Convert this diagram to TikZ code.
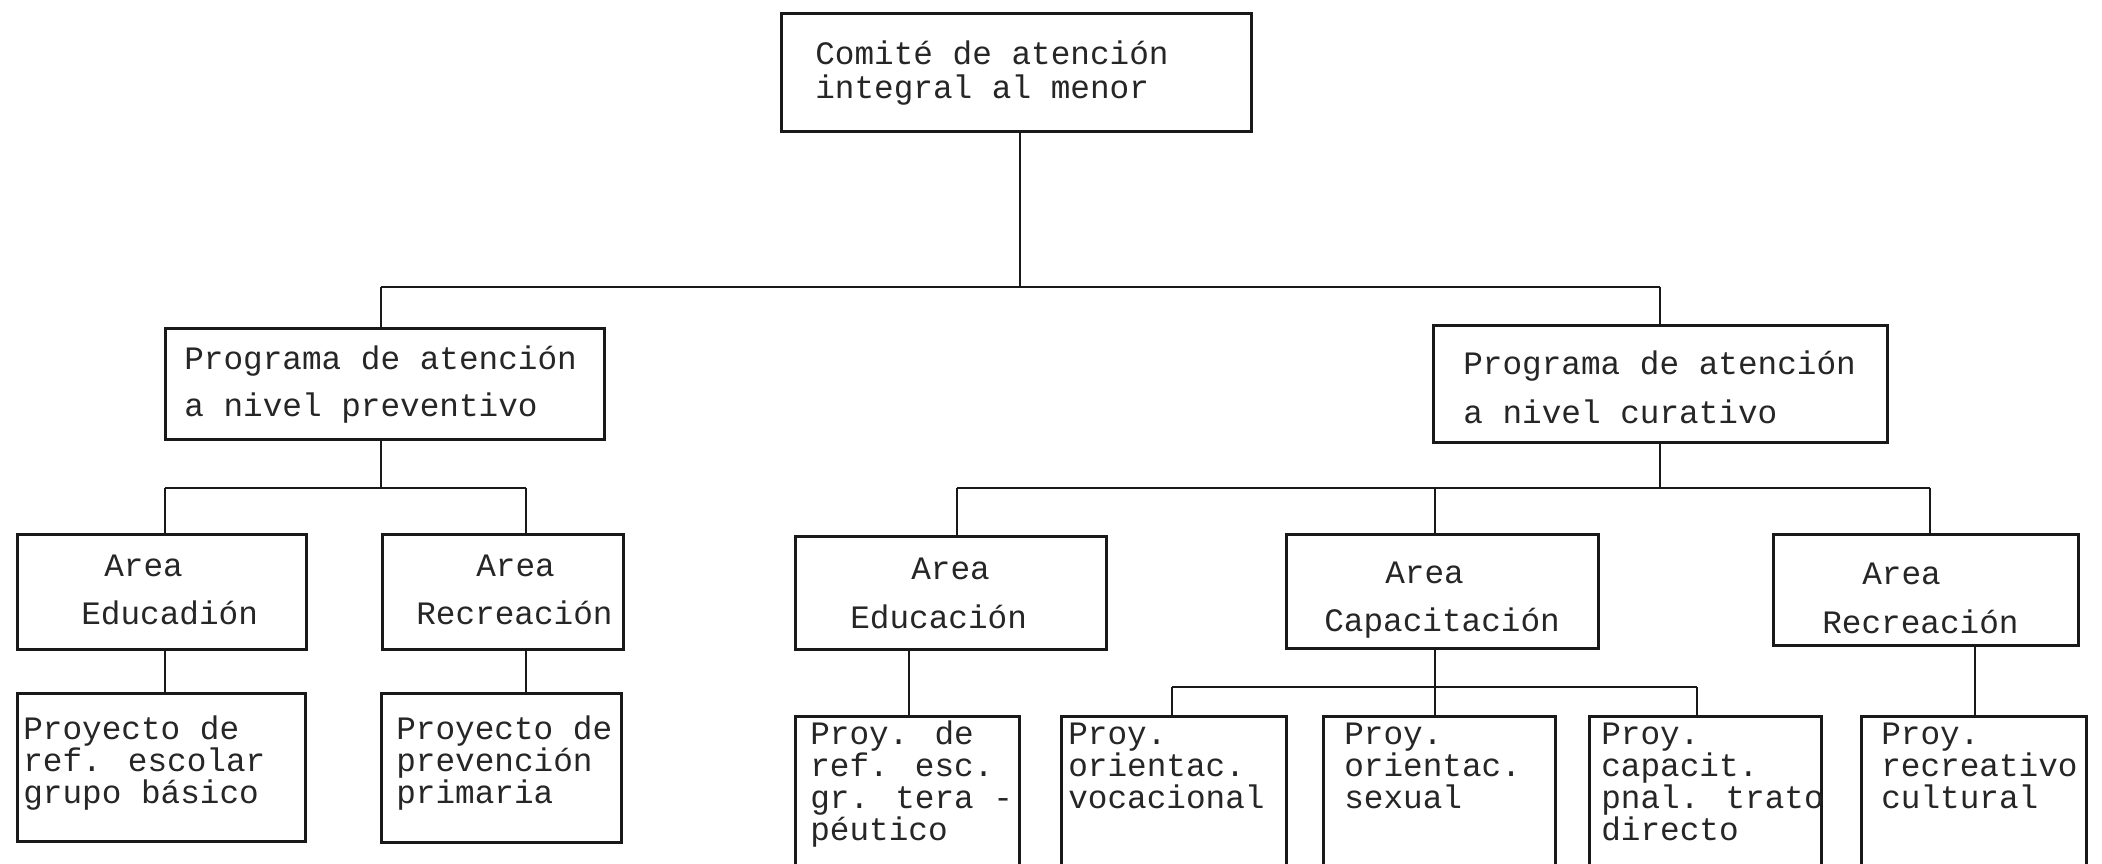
\documentclass[tikz,border=0pt]{standalone}
\usepackage{fontspec}
\newfontfamily\tw{Liberation Mono}
% #1 width, #2 height, #3 left pad, #4 baselineskip, #5 first baseline from top, #6 lines
\newcommand\bt[6]{\parbox[c][#2pt][t]{#1pt}{\tw\fontsize{32.7}{#4}\selectfont\leftskip=#3pt\relax\rightskip=-80pt plus 1fil\relax\parfillskip=0pt plus 1fil\relax\rule{0pt}{#5pt}#6}}
\tikzset{
  box/.style={draw=black!90, line width=2.7pt, inner sep=0pt, anchor=north west, text=black!85},
  conn/.style={draw=black!90, line width=2.7pt}
}
\begin{document}
\begin{tikzpicture}[x=1pt,y=1pt]
\useasboundingbox (0,0) rectangle (2102,-864);
\fill[white] (0,0) rectangle (2102,-864);
\clip (0,0) rectangle (2102,-864);
% level 0
\node[box] (top) at (780,-12) {\bt{470}{118}{34}{34}{51}{Comité de atención\\integral al menor}};
% level 1
\node[box] (prev) at (164,-327) {\bt{439}{111}{19}{47}{41}{Programa de atención\\a nivel preventivo}};
\node[box] (cur) at (1432,-324) {\bt{454}{117}{30}{49}{49}{Programa de atención\\a nivel curativo}};
% level 2
\node[box] (aEd) at (16,-533) {\bt{289}{115}{64}{48}{42}{\hspace*{23pt}Area\\Educadión}};
\node[box] (aRe) at (381,-533) {\bt{241}{115}{34}{48}{42}{\hspace*{60pt}Area\\Recreación}};
\node[box] (cEd) at (794,-535) {\bt{311}{113}{55}{49}{43}{\hspace*{61pt}Area\\Educación}};
\node[box] (cCap) at (1285,-533) {\bt{312}{114}{38}{48}{49}{\hspace*{61pt}Area\\Capacitación}};
\node[box] (cRe) at (1772,-533) {\bt{305}{111}{49}{49}{50}{\hspace*{40pt}Area\\Recreación}};
% level 3
\node[box] (pEd) at (16,-692) {\bt{288}{148}{6}{32}{46}{Proyecto de\\ref. escolar\\grupo básico}};
\node[box] (pRe) at (380,-692) {\bt{240}{149}{15}{32}{46}{Proyecto de\\prevención\\primaria}};
\node[box] (pRef) at (794,-715) {\bt{224}{153}{15}{32}{28}{Proy. de\\ref. esc.\\gr. tera -\\péutico}};
\node[box] (pVoc) at (1060,-715) {\bt{225}{153}{7}{32}{28}{Proy.\\orientac.\\vocacional}};
\node[box] (pSex) at (1322,-715) {\bt{232}{153}{21}{32}{28}{Proy.\\orientac.\\sexual}};
\node[box] (pCapa) at (1588,-715) {\bt{232}{153}{12}{32}{28}{Proy.\\capacit.\\pnal. trato\\directo}};
\node[box] (pRec) at (1860,-715) {\bt{225}{153}{20}{32}{28}{Proy.\\recreativo\\cultural}};
% junctions
\coordinate (jT) at (1020,-287);
\coordinate (jL) at (381,-287);
\coordinate (jR) at (1660,-287);
\coordinate (jp) at (381,-488);
\coordinate (jp1) at (165,-488);
\coordinate (jp2) at (526,-488);
\coordinate (jc) at (1660,-488);
\coordinate (jc1) at (957,-488);
\coordinate (jc2) at (1435,-488);
\coordinate (jc3) at (1930,-488);
\coordinate (xE) at (909,0);
\coordinate (jk1) at (1172,-687);
\coordinate (jk3) at (1697,-687);
\coordinate (xR) at (1975,0);
% connectors
\draw[conn] (top.south -| jT) -- (jT);
\draw[conn] (jL) -- (jR);
\draw[conn] (jL) -- (prev.north -| jL);
\draw[conn] (jR) -- (cur.north -| jR);
\draw[conn] (prev.south -| jp) -- (jp);
\draw[conn] (jp1) -- (jp2);
\draw[conn] (jp1) -- (aEd.north -| jp1);
\draw[conn] (jp2) -- (aRe.north -| jp2);
\draw[conn] (aEd.south -| jp1) -- (pEd.north -| jp1);
\draw[conn] (aRe.south -| jp2) -- (pRe.north -| jp2);
\draw[conn] (cur.south -| jc) -- (jc);
\draw[conn] (jc1) -- (jc3);
\draw[conn] (jc1) -- (cEd.north -| jc1);
\draw[conn] (jc2) -- (cCap.north -| jc2);
\draw[conn] (jc3) -- (cRe.north -| jc3);
\draw[conn] (cEd.south -| xE) -- (pRef.north -| xE);
\draw[conn] (cCap.south -| jc2) -- (pSex.north -| jc2);
\draw[conn] (jk1) -- (jk3);
\draw[conn] (jk1) -- (pVoc.north -| jk1);
\draw[conn] (jk3) -- (pCapa.north -| jk3);
\draw[conn] (cRe.south -| xR) -- (pRec.north -| xR);
\end{tikzpicture}
\end{document}
